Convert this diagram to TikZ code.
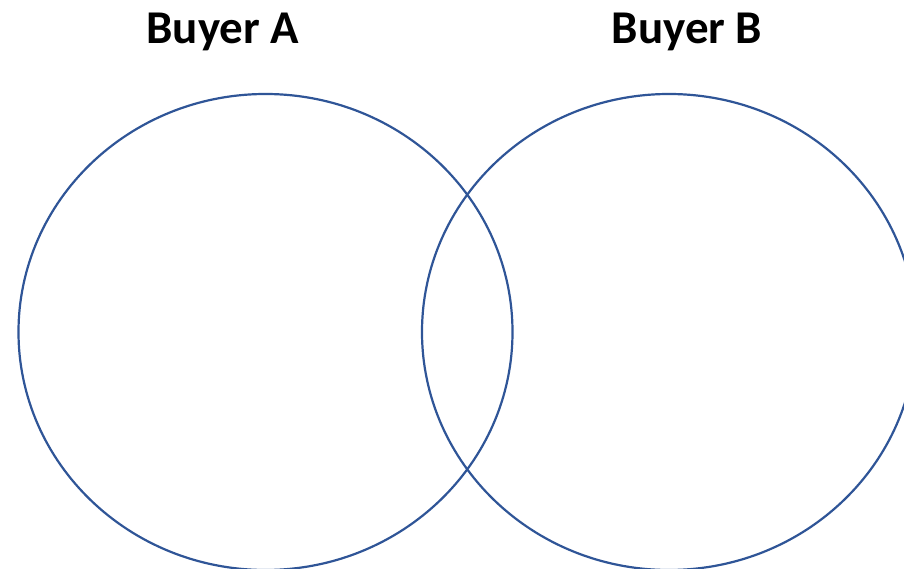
\documentclass[tikz,border=0pt]{standalone}
\usepackage{fontspec}
\setmainfont{Carlito}
\definecolor{ringblue}{HTML}{2F5597}
\begin{document}
\begin{tikzpicture}[x=1pt,y=-1pt,
  ring/.style={draw=ringblue,line width=2.2pt},
  title/.style={font=\bfseries\fontsize{47}{47}\selectfont,anchor=base,inner sep=0pt}]
\useasboundingbox (0,0) rectangle (904,569);
\begin{scope}
\clip (0,0) rectangle (904,569);
\draw[ring] (265.5,332) ellipse [x radius=247,y radius=238];
\draw[ring] (669,332) ellipse [x radius=247,y radius=238];
\end{scope}
\node[title] (buyerA) at (223,44) {Buyer A};
\node[title] (buyerB) at (687,44) {Buyer B};
\end{tikzpicture}
\end{document}
